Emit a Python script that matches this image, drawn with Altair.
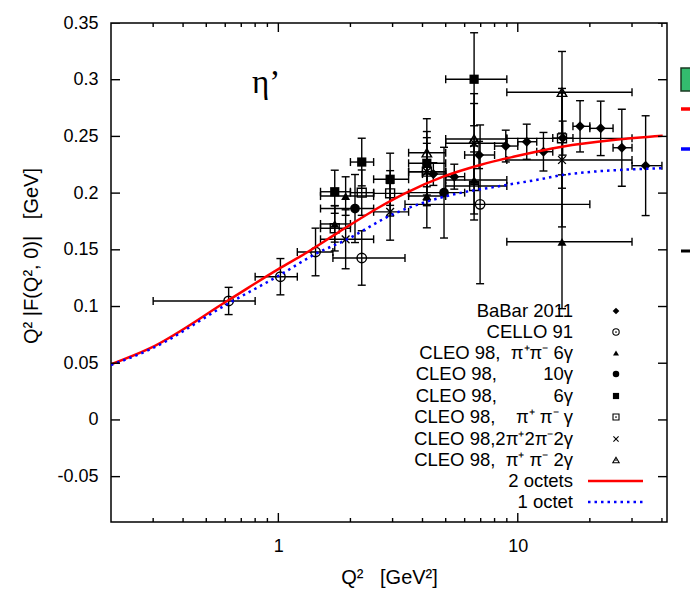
import altair as alt
import pandas as pd

# ---------------- data ----------------
# BaBar 2011  (filled diamond)
babar_q   = [4.44, 5.43, 6.89, 8.91, 10.9, 12.8, 15.4, 18.2, 22.2, 27.2, 34.2]
babar_f   = [0.2168, 0.2145, 0.2336, 0.2415, 0.2453, 0.2365, 0.2485, 0.2589, 0.2571, 0.240, 0.2242]
babar_err = [0.010, 0.011, 0.012, 0.014, 0.0155, 0.017, 0.015, 0.0226, 0.024, 0.034, 0.044]
babar_qlo = [4.0, 5.0, 6.0, 8.0, 10.0, 12.0, 14.0, 17.0, 20.0, 25.0, 30.0]
babar_qhi = [5.0, 6.0, 8.0, 10.0, 12.0, 14.0, 17.0, 20.0, 25.0, 30.0, 40.0]

# CELLO 91 (open circle)
cello_q   = [0.62, 1.02, 1.43, 2.23, 6.96]
cello_f   = [0.1049, 0.1263, 0.1481, 0.1428, 0.1901]
cello_err = [0.012, 0.016, 0.021, 0.024, 0.07]
cello_qlo = [0.30, 0.80, 1.20, 1.69, 3.38]
cello_qhi = [0.80, 1.20, 1.69, 3.38, 20.0]

# CLEO 98, pi+pi- 6gamma (filled triangle)
c6pp_q   = [1.72, 1.91, 4.17, 6.57, 15.3]
c6pp_f   = [0.1728, 0.1974, 0.1974, 0.2116, 0.1571]
c6pp_err = [0.016, 0.017, 0.028, 0.03, 0.059]
c6pp_qlo = [1.5, 1.5, 3.5, 5.0, 9.0]
c6pp_qhi = [2.0, 2.5, 5.0, 9.0, 30.0]

# CLEO 98, 10gamma (filled circle)
c10_q   = [2.09, 4.92]
c10_f   = [0.1864, 0.2004]
c10_err = [0.03, 0.04]
c10_qlo = [1.5, 3.5]
c10_qhi = [2.5, 6.0]

# CLEO 98, 6gamma (filled square)
c6_q   = [1.72, 2.23, 2.93, 4.17, 6.57]
c6_f   = [0.2012, 0.2274, 0.2122, 0.2263, 0.3004]
c6_err = [0.019, 0.021, 0.023, 0.028, 0.041]
c6_qlo = [1.5, 2.0, 2.5, 3.5, 5.0]
c6_qhi = [2.0, 2.5, 3.5, 5.0, 9.0]

# CLEO 98, pi+ pi- gamma (open square)
cpg_q   = [1.72, 2.23, 2.93, 4.17, 6.57, 15.3]
cpg_f   = [0.169, 0.2004, 0.1998, 0.2189, 0.2063, 0.2483]
cpg_err = [0.02, 0.02, 0.02, 0.025, 0.03, 0.044]
cpg_qlo = [1.5, 2.0, 2.5, 3.5, 5.0, 9.0]
cpg_qhi = [2.0, 2.5, 3.5, 5.0, 9.0, 30.0]

# CLEO 98, 2pi+2pi-2gamma (x)
c2pp_q   = [1.91, 2.93, 4.17, 6.57, 15.3]
c2pp_f   = [0.1593, 0.1835, 0.2189, 0.244, 0.2292]
c2pp_err = [0.026, 0.025, 0.03, 0.035, 0.059]
c2pp_qlo = [1.5, 2.5, 3.5, 5.0, 9.0]
c2pp_qhi = [2.5, 3.5, 5.0, 9.0, 30.0]

# CLEO 98, pi+ pi- 2gamma (open triangle)
cp2g_q   = [4.17, 6.57, 15.3]
cp2g_f   = [0.2356, 0.2477, 0.2889]
cp2g_err = [0.03, 0.04, 0.036]
cp2g_qlo = [3.5, 5.0, 9.0]
cp2g_qhi = [5.0, 9.0, 30.0]

# model curves
oct2_q = [0.2, 0.29, 0.62, 1.0, 1.3, 1.8, 2.66, 3.38, 4.88, 6.96, 9.58, 15.3, 25.1, 40.3]
oct2_f = [0.049, 0.063, 0.1057, 0.133, 0.147, 0.166, 0.188, 0.1998, 0.2145, 0.2248, 0.232, 0.2409, 0.2468, 0.2506]
oct1_q = [0.2, 0.29, 0.62, 1.0, 1.45, 1.91, 3.07, 4.92, 8.93, 13.0, 15.3, 39.9]
oct1_f = [0.0484, 0.062, 0.1028, 0.127, 0.147, 0.1586, 0.1822, 0.1968, 0.2071, 0.213, 0.216, 0.2219]

legend_labels = [
    "BaBar 2011",
    "CELLO 91",
    "CLEO 98,\u00a0\u00a0π⁺π⁻ 6γ",
    "CLEO 98,\u00a0\u00a0\u00a0\u00a0\u00a0\u00a0\u00a0\u00a0\u00a010γ",
    "CLEO 98,\u00a0\u00a0\u00a0\u00a0\u00a0\u00a0\u00a0\u00a0\u00a0\u00a0\u00a06γ",
    "CLEO 98,\u00a0\u00a0\u00a0\u00a0π⁺ π⁻ γ",
    "CLEO 98,2π⁺2π⁻2γ",
    "CLEO 98,\u00a0\u00a0π⁺ π⁻ 2γ",
    "2 octets",
    "1 octet",
]

x_major = [1, 10]
x_minor = [0.3, 0.4, 0.5, 0.6, 0.7, 0.8, 0.9, 2, 3, 4, 5, 6, 7, 8, 9, 20, 30, 40]
y_ticks = [-0.05, 0.0, 0.05, 0.1, 0.15, 0.2, 0.25, 0.3, 0.35]

# ---------------- layout ----------------
W, H = 556, 499
xs = alt.Scale(type="log", domain=[0.2, 42], nice=False)
ys = alt.Scale(domain=[-0.09, 0.35], nice=False, zero=False)
CROSS = "M-1,-1L1,1M-1,1L1,-1"

xaxis = alt.Axis(values=x_major, format="~g", ticks=False, domain=False, grid=False,
                 labelFontSize=18, labelPadding=15, labelColor="black", labelFlush=False,
                 labelOverlap=False,
                 title="Q²\u00a0\u00a0\u00a0[GeV²]", titleFontSize=20, titleFontWeight="normal",
                 titleColor="black", titleX=W / 2, titleY=55, titleBaseline="middle",
                 titleAlign="center")
yaxis = alt.Axis(values=y_ticks, labelExpr="replace(format(datum.value, '.2~f'), '\u2212', '-')",
                 ticks=False, domain=False, grid=False, labelFontSize=18, labelPadding=13,
                 labelColor="black", labelFlush=False, labelOverlap=False,
                 title="Q² |F(Q², 0)|\u00a0\u00a0\u00a0[GeV]", titleFontSize=20,
                 titleFontWeight="normal", titleColor="black", titleX=-80, titleY=H / 2 - 17,
                 titleBaseline="middle", titleAlign="center")


def X(field):
    return alt.X(field, scale=xs, axis=xaxis)


def Y(field):
    return alt.Y(field, scale=ys, axis=yaxis)


series = [
    ("BaBar 2011", babar_q, babar_f, babar_err, babar_qlo, babar_qhi, "diamond", True, 100),
    ("CELLO 91", cello_q, cello_f, cello_err, cello_qlo, cello_qhi, "circle", False, 90),
    ("CLEO pp6g", c6pp_q, c6pp_f, c6pp_err, c6pp_qlo, c6pp_qhi, "triangle-up", True, 80),
    ("CLEO 10g", c10_q, c10_f, c10_err, c10_qlo, c10_qhi, "circle", True, 95),
    ("CLEO 6g", c6_q, c6_f, c6_err, c6_qlo, c6_qhi, "square", True, 85),
    ("CLEO ppg", cpg_q, cpg_f, cpg_err, cpg_qlo, cpg_qhi, "square", False, 80),
    ("CLEO 2pp2g", c2pp_q, c2pp_f, c2pp_err, c2pp_qlo, c2pp_qhi, CROSS, False, 60),
    ("CLEO pp2g", cp2g_q, cp2g_f, cp2g_err, cp2g_qlo, cp2g_qhi, "triangle-up", False, 90),
]

frames = []
for name, q, f, e, lo, hi, *_ in series:
    frames.append(pd.DataFrame({
        "name": name, "q": q, "f": f,
        "lo": [a - b for a, b in zip(f, e)], "hi": [a + b for a, b in zip(f, e)],
        "qlo": lo, "qhi": hi,
    }))
df_all = pd.concat(frames, ignore_index=True)

LW = 1.4
base = alt.Chart(df_all)
vbar = base.mark_rule(color="black", strokeWidth=LW, clip=True).encode(
    x=X("q:Q"), y=Y("lo:Q"), y2="hi:Q")
vcap1 = base.mark_tick(orient="horizontal", size=8, thickness=LW, color="black", opacity=1, clip=True).encode(
    x=X("q:Q"), y=Y("lo:Q"))
vcap2 = base.mark_tick(orient="horizontal", size=8, thickness=LW, color="black", opacity=1, clip=True).encode(
    x=X("q:Q"), y=Y("hi:Q"))
hbar = base.mark_rule(color="black", strokeWidth=LW, clip=True).encode(
    x=X("qlo:Q"), x2="qhi:Q", y=Y("f:Q"))
hcap1 = base.mark_tick(orient="vertical", size=8, thickness=LW, color="black", opacity=1, clip=True).encode(
    x=X("qlo:Q"), y=Y("f:Q"))
hcap2 = base.mark_tick(orient="vertical", size=8, thickness=LW, color="black", opacity=1, clip=True).encode(
    x=X("qhi:Q"), y=Y("f:Q"))

layers = [vbar, vcap1, vcap2, hbar, hcap1, hcap2]

for name, q, f, e, lo, hi, shape, filled, size in series:
    d = df_all[df_all["name"] == name]
    layers.append(alt.Chart(d).mark_point(shape=shape, filled=filled, size=size, color="black",
                                          strokeWidth=LW, opacity=1, clip=True).encode(
        x=X("q:Q"), y=Y("f:Q")))

# curves
red = alt.Chart(pd.DataFrame({"q": oct2_q, "f": oct2_f})).mark_line(
    color="#ff0000", strokeWidth=2.5, interpolate="monotone", clip=True).encode(
    x=X("q:Q"), y=Y("f:Q"))
blue = alt.Chart(pd.DataFrame({"q": oct1_q, "f": oct1_f})).mark_line(
    color="#0000ff", strokeWidth=2.5, strokeDash=[2.5, 4], interpolate="monotone", clip=True).encode(
    x=X("q:Q"), y=Y("f:Q"))
layers += [red, blue]

# inward frame ticks
for vals, sz in [(x_major, 18), (x_minor, 8)]:
    dft = pd.DataFrame({"q": vals})
    for yv in (0, H):
        layers.append(alt.Chart(dft).mark_tick(orient="vertical", size=sz, thickness=LW, color="black",
                                               opacity=1, clip=True).encode(
            x=X("q:Q"), y=alt.value(yv)))
dfy = pd.DataFrame({"f": y_ticks})
for xv in (0, W):
    layers.append(alt.Chart(dfy).mark_tick(orient="horizontal", size=18, thickness=LW, color="black",
                                           opacity=1, clip=True).encode(
        y=Y("f:Q"), x=alt.value(xv)))

one = pd.DataFrame({"a": [0]})

# eta' label
layers.append(alt.Chart(one).mark_text(text="η’", font="Liberation Serif", fontSize=33,
                                       align="center", baseline="alphabetic", color="black").encode(
    x=alt.value(155), y=alt.value(70)))

# legend
row_y = [288, 309, 330, 351, 373, 394, 416, 437, 458, 479]
TX, SX = 462, 505
for lab, ry in zip(legend_labels, row_y):
    layers.append(alt.Chart(one).mark_text(text=lab, fontSize=18.5, align="right", baseline="middle",
                                           color="black").encode(x=alt.value(TX), y=alt.value(ry)))
for (name, q, f, e, lo, hi, shape, filled, size), ry in zip(series, row_y):
    layers.append(alt.Chart(one).mark_point(shape=shape, filled=filled, size=size * 0.45, color="black",
                                            strokeWidth=1.1, opacity=1).encode(
        x=alt.value(SX), y=alt.value(ry)))
    if not filled and shape != CROSS:
        layers.append(alt.Chart(one).mark_point(shape="circle", filled=True, size=3, color="black",
                                                opacity=1).encode(x=alt.value(SX), y=alt.value(ry)))
layers.append(alt.Chart(one).mark_rule(color="#ff0000", strokeWidth=2.5).encode(
    x=alt.value(477), x2=alt.value(532), y=alt.value(458)))
layers.append(alt.Chart(one).mark_rule(color="#0000ff", strokeWidth=2.5, strokeDash=[2.5, 4]).encode(
    x=alt.value(477), x2=alt.value(532), y=alt.value(479)))

# clipped pieces of a neighbouring key at the right edge
layers.append(alt.Chart(one).mark_rect(fill="#33bb6e", stroke="#1a3a22", strokeWidth=1.5).encode(
    x=alt.value(570), x2=alt.value(600), y=alt.value(45), y2=alt.value(68)))
layers.append(alt.Chart(one).mark_rule(color="#ff0000", strokeWidth=3.5).encode(
    x=alt.value(570), x2=alt.value(600), y=alt.value(86)))
layers.append(alt.Chart(one).mark_rule(color="#0000ff", strokeWidth=3.5).encode(
    x=alt.value(570), x2=alt.value(600), y=alt.value(126)))
layers.append(alt.Chart(one).mark_rule(color="black", strokeWidth=3).encode(
    x=alt.value(570), x2=alt.value(600), y=alt.value(228)))

chart = alt.layer(*layers).properties(
    width=W, height=H,
    autosize=alt.AutoSizeParams(type="none"),
    padding={"left": 103, "top": 15, "right": 23, "bottom": 66},
).configure(font="Liberation Sans").configure_view(stroke="black", strokeWidth=1.5)

chart.save("out.html", embed_options={"renderer": "svg", "actions": False})
